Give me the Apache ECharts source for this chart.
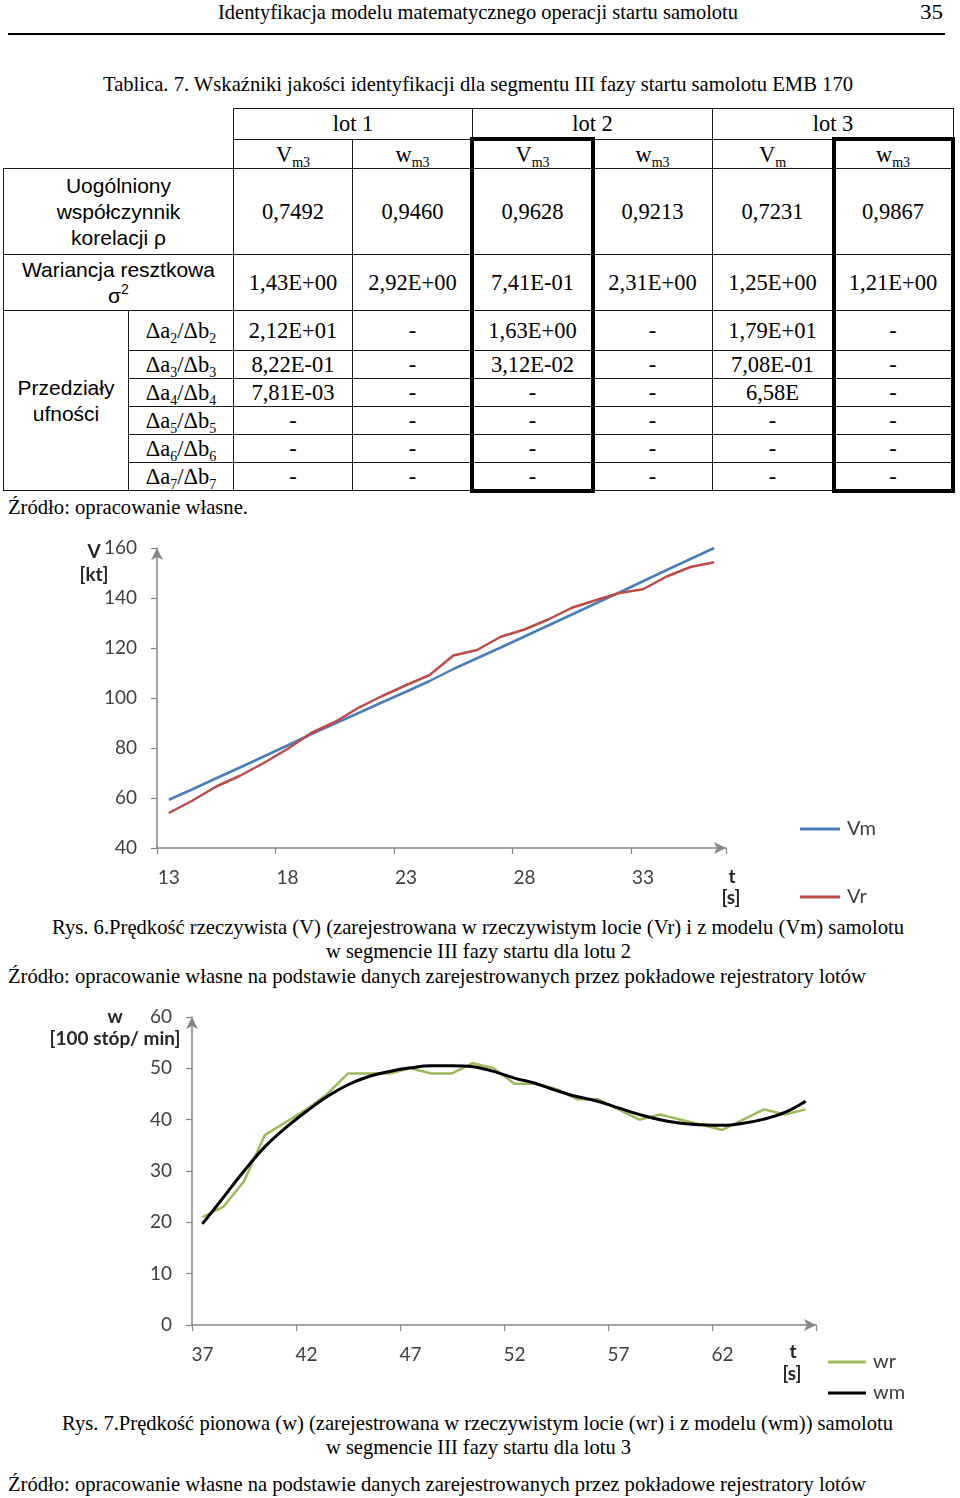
<!DOCTYPE html>
<html>
<head>
<meta charset="utf-8">
<script src="https://cdn.jsdelivr.net/npm/echarts@6.0.0/dist/echarts.min.js"></script>
<style>
  html, body { margin: 0; padding: 0; background: #fff; }
  body { position: relative; width: 960px; height: 1498px; overflow: hidden; }
  .fit { position: absolute; white-space: nowrap; transform-origin: left top; font-family: "Liberation Serif", "Times New Roman", serif; font-size: 21px; line-height: 24px; color: #000; }
  .cell { position: absolute; box-sizing: border-box; border: 1px solid #1a1a1a; display: flex; align-items: center; justify-content: center; text-align: center; font-family: "Liberation Serif", "Times New Roman", serif; font-size: 22.5px; line-height: 24px; color: #000; background: transparent; }
  .cell > span { display: block; white-space: nowrap; }
  .cell.sans { font-family: "Liberation Sans", Arial, sans-serif; font-size: 21px; line-height: 26px; }
  .cell sub { font-size: 14px; vertical-align: -5px; line-height: 0; }
  .cell sup { font-size: 14px; vertical-align: 9px; line-height: 0; }
  .thick { position: absolute; box-sizing: border-box; border: 4px solid #000; }
  #rule { position: absolute; left: 8px; top: 33px; width: 937px; height: 2px; background: #000; }
  .chart { position: absolute; left: 0; width: 960px; }
</style>
</head>
<body>
<div class="fit" data-x="218" data-w="520" data-cy="12">Identyfikacja modelu matematycznego operacji startu samolotu</div>
<div class="fit" data-x="920" data-w="23" data-cy="12">35</div>
<div id="rule"></div>
<div class="fit" data-x="103" data-w="750" data-cy="84">Tablica. 7. Wskaźniki jakości identyfikacji dla segmentu III fazy startu samolotu EMB 170</div>

<div id="table"></div>

<div class="fit" data-x="8" data-w="240" data-cy="507">Źródło: opracowanie własne.</div>

<div id="c1" class="chart" style="top:530px;height:385px;"></div>

<div class="fit" data-x="52" data-w="852" data-cy="927">Rys. 6.Prędkość rzeczywista (V) (zarejestrowana w rzeczywistym locie (Vr) i z modelu (Vm) samolotu</div>
<div class="fit" data-x="326" data-w="305" data-cy="951">w segmencie III fazy startu dla lotu 2</div>
<div class="fit" data-x="8" data-w="858" data-cy="976">Źródło: opracowanie własne na podstawie danych zarejestrowanych przez pokładowe rejestratory lotów</div>

<div id="c2" class="chart" style="top:1000px;height:405px;"></div>

<div class="fit" data-x="62" data-w="831" data-cy="1423">Rys. 7.Prędkość pionowa (w) (zarejestrowana w rzeczywistym locie (wr) i z modelu (wm)) samolotu</div>
<div class="fit" data-x="326" data-w="305" data-cy="1447">w segmencie III fazy startu dla lotu 3</div>
<div class="fit" data-x="8" data-w="858" data-cy="1484">Źródło: opracowanie własne na podstawie danych zarejestrowanych przez pokładowe rejestratory lotów</div>

<script>
// ---------------- DATA ----------------
// Table 7
const lotHeaders = ['lot 1', 'lot 2', 'lot 3'];
const colHeaders = [['V', 'm3'], ['w', 'm3'], ['V', 'm3'], ['w', 'm3'], ['V', 'm'], ['w', 'm3']];
const rhoValues = ['0,7492', '0,9460', '0,9628', '0,9213', '0,7231', '0,9867'];
const varianceValues = ['1,43E+00', '2,92E+00', '7,41E-01', '2,31E+00', '1,25E+00', '1,21E+00'];
const intervalIndex = ['2', '3', '4', '5', '6', '7'];
const intervalValues = [
  ['2,12E+01', '-', '1,63E+00', '-', '1,79E+01', '-'],
  ['8,22E-01', '-', '3,12E-02', '-', '7,08E-01', '-'],
  ['7,81E-03', '-', '-', '-', '6,58E', '-'],
  ['-', '-', '-', '-', '-', '-'],
  ['-', '-', '-', '-', '-', '-'],
  ['-', '-', '-', '-', '-', '-']
];

// Fig. 6 – speed V [kt] vs t [s], flight 2
const timeFig6 = ['13','14','15','16','17','18','19','20','21','22','23','24','25','26','27','28','29','30','31','32','33','34','35','36'];
const vmValues = [59.3, 63.5, 67.9, 72.2, 76.6, 81.0, 85.5, 89.8, 94.0, 98.3, 102.5, 106.8, 111.6, 115.9, 120.2, 124.6, 129.0, 133.4, 137.8, 142.2, 146.7, 151.2, 155.6, 160.0];
const vrValues = [54.0, 59.0, 64.6, 68.9, 74.0, 79.6, 86.0, 90.4, 96.1, 100.8, 105.1, 109.2, 117.0, 119.2, 124.5, 127.4, 131.4, 136.1, 139.1, 142.0, 143.5, 148.6, 152.4, 154.3];
const yTicksFig6 = { min: 40, max: 160, step: 20 };

// Fig. 7 – vertical speed w [100 ft/min] vs t [s], flight 3
const timeFig7 = ['37','38','39','40','41','42','43','44','45','46','47','48','49','50','51','52','53','54','55','56','57','58','59','60','61','62','63','64','65','66'];
const wrValues = [21.0, 23.0, 28.0, 37.0, 39.5, 42.0, 45.0, 49.0, 49.0, 49.0, 50.0, 49.0, 49.0, 51.0, 50.0, 47.0, 47.0, 46.0, 44.0, 44.0, 42.0, 40.0, 41.0, 40.0, 39.0, 38.0, 40.0, 42.0, 41.0, 42.0];
const wmValues = [19.7, 24.8, 30.0, 34.7, 38.4, 41.6, 44.5, 46.8, 48.4, 49.4, 50.1, 50.5, 50.5, 50.3, 49.4, 48.1, 47.1, 45.7, 44.5, 43.6, 42.3, 41.0, 40.0, 39.3, 39.0, 38.9, 39.3, 40.1, 41.4, 43.6];
const yTicksFig7 = { min: 0, max: 60, step: 10 };

// ---------------- TABLE LAYOUT ----------------
const colX = [233, 352, 472, 592, 712, 832, 953];
const rowY = { top: 108, lot: 139, sub: 168, rho: 254, vari: 310 };
const deltaY = [310, 350, 378, 406, 434, 462, 490];
const tbl = document.getElementById('table');
function cell(x0, y0, x1, y1, html, extra) {
  const d = document.createElement('div');
  d.className = 'cell' + (extra ? ' ' + extra : '');
  d.style.left = x0 + 'px';
  d.style.top = y0 + 'px';
  d.style.width = (x1 - x0 + 1) + 'px';
  d.style.height = (y1 - y0 + 1) + 'px';
  d.innerHTML = '<span>' + html + '</span>';
  tbl.appendChild(d);
  return d;
}
lotHeaders.forEach((l, i) => cell(colX[2 * i], rowY.top, colX[2 * i + 2], rowY.lot, l));
colHeaders.forEach((c, i) => {
  const d = cell(colX[i], rowY.lot, colX[i + 1], rowY.sub, c[0] + '<sub>' + c[1] + '</sub>');
  d.style.paddingTop = '2px';
});
cell(3, rowY.sub, 233, rowY.rho, 'Uogólniony<br>współczynnik<br>korelacji ρ', 'sans');
rhoValues.forEach((v, i) => cell(colX[i], rowY.sub, colX[i + 1], rowY.rho, v));
cell(3, rowY.rho, 233, rowY.vari, 'Wariancja resztkowa<br>σ<sup>2</sup>', 'sans');
varianceValues.forEach((v, i) => cell(colX[i], rowY.rho, colX[i + 1], rowY.vari, v));
cell(3, deltaY[0], 128, deltaY[deltaY.length - 1], 'Przedziały<br>ufności', 'sans');
intervalIndex.forEach((k, r) => {
  cell(128, deltaY[r], 233, deltaY[r + 1], 'Δa<sub>' + k + '</sub>/Δb<sub>' + k + '</sub>');
  intervalValues[r].forEach((v, i) => cell(colX[i], deltaY[r], colX[i + 1], deltaY[r + 1], v));
});
[[470, 137, 125, 356], [832, 137, 123, 356]].forEach(b => {
  const d = document.createElement('div');
  d.className = 'thick';
  d.style.left = b[0] + 'px'; d.style.top = b[1] + 'px';
  d.style.width = b[2] + 'px'; d.style.height = b[3] + 'px';
  tbl.appendChild(d);
});

// ---------------- TEXT FITTING ----------------
document.querySelectorAll('.fit').forEach(el => {
  const x = +el.dataset.x, w = +el.dataset.w, cy = +el.dataset.cy;
  el.style.left = x + 'px';
  const nat = el.getBoundingClientRect().width;
  const h = el.getBoundingClientRect().height;
  el.style.top = (cy - h / 2) + 'px';
  el.style.transform = 'scaleX(' + (w / nat) + ')';
});

// ---------------- CHARTS ----------------
const FONT = 'Lato';
const LABEL_COLOR = '#404040';
const AXIS_COLOR = '#868686';

function axisCommon() {
  return {
    axisLine: { show: true, symbol: ['none', 'arrow'], symbolSize: [9, 12], lineStyle: { color: AXIS_COLOR, width: 1.5 } },
    axisTick: { show: true, length: 6, lineStyle: { color: AXIS_COLOR, width: 1.2 } },
    splitLine: { show: false },
    axisLabel: { fontFamily: FONT, fontSize: 19, color: LABEL_COLOR, margin: 20 }
  };
}
function nameText(x, y, text) {
  return { type: 'text', x: x, y: y, style: { text: text, font: 'bold 19px Lato', fill: '#262626', align: 'center', verticalAlign: 'middle' } };
}
function legendItem(name, left, top, width) {
  return {
    type: 'plain', orient: 'vertical', left: left, top: top, padding: 0,
    itemWidth: width, itemHeight: 3, icon: 'rect', itemGap: 0,
    textStyle: { fontFamily: FONT, fontSize: 20, lineHeight: 20, color: LABEL_COLOR, padding: [0, 0, 0, 2] },
    data: [name]
  };
}

const c1 = echarts.init(document.getElementById('c1'), null, { renderer: 'canvas' });
const x1 = axisCommon();
x1.axisTick.interval = 4;
x1.axisLabel.interval = 4;
const y1 = axisCommon();
c1.setOption({
  animation: false,
  grid: { left: 157, top: 18, right: 234, bottom: 67 },
  xAxis: Object.assign({ type: 'category', data: timeFig6, boundaryGap: true }, x1),
  yAxis: Object.assign({ type: 'value', min: yTicksFig6.min, max: yTicksFig6.max, interval: yTicksFig6.step }, y1),
  legend: [legendItem('Vm', 800, 289, 40), legendItem('Vr', 800, 357, 40)],
  graphic: [nameText(94, 22, 'V'), nameText(94, 45, '[kt]'), nameText(732, 347, 't'), nameText(731, 368, '[s]')],
  series: [
    { name: 'Vm', type: 'line', data: vmValues, symbol: 'none', lineStyle: { color: '#4A7EBB', width: 2.5 }, itemStyle: { color: '#4A7EBB' } },
    { name: 'Vr', type: 'line', data: vrValues, symbol: 'none', lineStyle: { color: '#BE4B48', width: 2.5 }, itemStyle: { color: '#BE4B48' } }
  ]
});

const c2 = echarts.init(document.getElementById('c2'), null, { renderer: 'canvas' });
const x2 = axisCommon();
x2.axisTick.interval = 4;
x2.axisLabel.interval = 4;
const y2 = axisCommon();
c2.setOption({
  animation: false,
  grid: { left: 192, top: 17, right: 144, bottom: 80 },
  xAxis: Object.assign({ type: 'category', data: timeFig7, boundaryGap: true }, x2),
  yAxis: Object.assign({ type: 'value', min: yTicksFig7.min, max: yTicksFig7.max, interval: yTicksFig7.step }, y2),
  legend: [legendItem('wr', 828, 352, 38), legendItem('wm', 828, 383, 38)],
  graphic: [nameText(115, 17, 'w'), nameText(115, 39, '[100 stóp/ min]'), nameText(793, 352, 't'), nameText(792, 374, '[s]')],
  series: [
    { name: 'wr', type: 'line', data: wrValues, symbol: 'none', lineStyle: { color: '#9BBB59', width: 2.5 }, itemStyle: { color: '#9BBB59' } },
    { name: 'wm', type: 'line', data: wmValues, symbol: 'none', smooth: 0.4, lineStyle: { color: '#000000', width: 3 }, itemStyle: { color: '#000000' } }
  ]
});
</script>
</body>
</html>
